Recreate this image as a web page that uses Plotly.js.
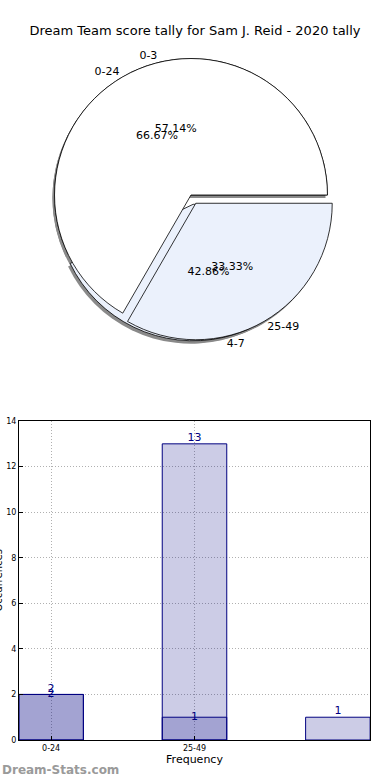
<!DOCTYPE html>
<html>
<head>
<meta charset="utf-8">
<script src="https://cdn.plot.ly/plotly-3.0.1.min.js"></script>
<style>html,body{margin:0;padding:0;background:#fff;}#chart{width:390px;height:780px;}</style>
</head>
<body>
<div id="chart"></div>
<script>
// ---- data ----
var titleText = 'Dream Team score tally for Sam J. Reid - 2020 tally';
var pieALabels = ['0-24', '25-49'];
var pieAValues = [2, 1];
var pieBLabels = ['0-3', '4-7'];
var pieBValues = [4, 3];
var barCategories = ['0-24', '25-49', ''];
var barSeriesA = [2, 1];
var barSeriesB = [2, 13, 1];
var yTicks = [0, 2, 4, 6, 8, 10, 12, 14];
var xTitle = 'Frequency';
var yTitle = 'Occurrences';
var watermark = 'Dream-Stats.com';

// ---- style ----
var FONT = 'DejaVu Sans, sans-serif';
var sliceColors = ['#ffffff', '#ebf1fc'];
var pull = [0, 0.07];
var dom = {x: [0.074, 0.906], y: [0.539, 0.934]};
var shadowDom = {x: [dom.x[0] - 0.006, dom.x[1] - 0.006], y: [dom.y[0] - 0.004, dom.y[1] - 0.004]};
var clear = ['rgba(0,0,0,0)', 'rgba(0,0,0,0)'];

function rev(a) { return a.slice().reverse(); }

// Slices are given in reverse order so that, drawn counterclockwise from
// 3 o'clock, the first category starts at 3 o'clock like the reference.
function pie(labels, values, extra) {
  var t = {
    type: 'pie', labels: rev(labels), values: rev(values), sort: false,
    direction: 'counterclockwise', rotation: 90, pull: rev(pull),
    domain: dom, hoverinfo: 'none', showlegend: false, textinfo: 'none'
  };
  for (var k in extra) t[k] = extra[k];
  if (t.marker && t.marker.colors) t.marker.colors = rev(t.marker.colors);
  return t;
}

var xIdx = barCategories.map(function (c, i) { return i; });
var barColor = 'rgba(0,0,128,0.2)';

var traces = [
  // shadows
  pie(pieBLabels, pieBValues, {domain: shadowDom, marker: {colors: ['#8a8a8a', '#8a8a8a'], line: {width: 0}}}),
  pie(pieALabels, pieAValues, {domain: shadowDom, marker: {colors: ['#8a8a8a', '#8a8a8a'], line: {width: 0}}}),
  // fills
  pie(pieBLabels, pieBValues, {marker: {colors: sliceColors, line: {color: '#000', width: 0.8}}}),
  pie(pieALabels, pieAValues, {marker: {colors: sliceColors, line: {color: '#000', width: 0.8}}}),
  // percent texts
  pie(pieBLabels, pieBValues, {marker: {colors: clear, line: {width: 0}}, textinfo: 'text',
    texttemplate: '%{percent:.2%}', textposition: 'inside', insidetextorientation: 'horizontal',
    textfont: {family: FONT, size: 11, color: '#000'}}),
  pie(pieALabels, pieAValues, {marker: {colors: clear, line: {width: 0}}, textinfo: 'text',
    texttemplate: '%{percent:.2%}', textposition: 'inside', insidetextorientation: 'horizontal',
    textfont: {family: FONT, size: 11, color: '#000'}}),
  // label texts
  pie(pieBLabels, pieBValues, {marker: {colors: clear, line: {width: 0}}, textinfo: 'text',
    texttemplate: '%{label}', textposition: 'outside',
    textfont: {family: FONT, size: 11, color: '#000'}}),
  pie(pieALabels, pieAValues, {marker: {colors: clear, line: {width: 0}}, textinfo: 'text',
    texttemplate: '%{label}', textposition: 'outside',
    textfont: {family: FONT, size: 11, color: '#000'}}),
  // bars
  {type: 'bar', x: xIdx.slice(0, barSeriesB.length), y: barSeriesB, width: 0.45,
    marker: {color: barColor, line: {color: '#000080', width: 1}}, hoverinfo: 'none', showlegend: false},
  {type: 'bar', x: xIdx.slice(0, barSeriesA.length), y: barSeriesA, width: 0.45,
    marker: {color: barColor, line: {color: '#000080', width: 1}}, hoverinfo: 'none', showlegend: false},
  // bar value labels
  {type: 'scatter', mode: 'text', x: xIdx.slice(0, barSeriesB.length), y: barSeriesB,
    text: barSeriesB.map(String), textposition: 'top center',
    textfont: {family: FONT, size: 11, color: '#000080'}, hoverinfo: 'none', showlegend: false},
  {type: 'scatter', mode: 'text', x: xIdx.slice(0, barSeriesA.length), y: barSeriesA,
    text: barSeriesA.map(String), textposition: 'middle center',
    textfont: {family: FONT, size: 11, color: '#000080'}, hoverinfo: 'none', showlegend: false}
];

var layout = {
  width: 390, height: 780,
  margin: {l: 19, r: 20, t: 0, b: 40},
  paper_bgcolor: '#fff', plot_bgcolor: '#fff',
  font: {family: FONT, color: '#000'},
  barmode: 'overlay',
  title: {text: titleText, font: {family: FONT, size: 13, color: '#000'},
    xref: 'container', x: 0.5, xanchor: 'center', yref: 'container', y: 1 - 30 / 780, yanchor: 'middle'},
  xaxis: {
    domain: [0, 1], anchor: 'y', range: [-0.224, 2.224],
    tickmode: 'array', tickvals: xIdx.slice(0, 2), ticktext: barCategories.slice(0, 2),
    tickfont: {family: FONT, size: 8, color: '#000'},
    showgrid: true, gridcolor: '#b0b0b0', griddash: '1px,2px', gridwidth: 1,
    showline: true, linecolor: '#000', linewidth: 1, mirror: true,
    ticks: 'inside', ticklen: 4, tickcolor: '#000', zeroline: false,
    title: {text: xTitle, font: {family: FONT, size: 11, color: '#000'}, standoff: 3},
    fixedrange: true
  },
  yaxis: {
    domain: [0, 0.431], anchor: 'x', range: [0, 14],
    tickmode: 'array', tickvals: yTicks,
    tickfont: {family: FONT, size: 8, color: '#000'},
    showgrid: true, gridcolor: '#b0b0b0', griddash: '1px,2px', gridwidth: 1,
    showline: true, linecolor: '#000', linewidth: 1, mirror: true,
    ticks: 'inside', ticklen: 4, tickcolor: '#000', zeroline: false,
    automargin: false, fixedrange: true
  },
  annotations: [{
    text: watermark, xref: 'paper', yref: 'paper', x: -19 / 351, y: -30 / 740,
    xanchor: 'left', yanchor: 'middle', showarrow: false,
    font: {family: FONT, size: 12, color: '#9a9a9a', weight: 'bold'}
  }, {
    // y-axis title, mostly cut off at the left edge as in the reference
    text: yTitle, xref: 'paper', yref: 'paper', x: -20 / 351, y: 0.431 / 2,
    xanchor: 'center', yanchor: 'middle', textangle: -90, showarrow: false,
    font: {family: FONT, size: 10, color: '#000'}
  }]
};

Plotly.newPlot('chart', traces, layout, {displayModeBar: false, staticPlot: true});
</script>
</body>
</html>
